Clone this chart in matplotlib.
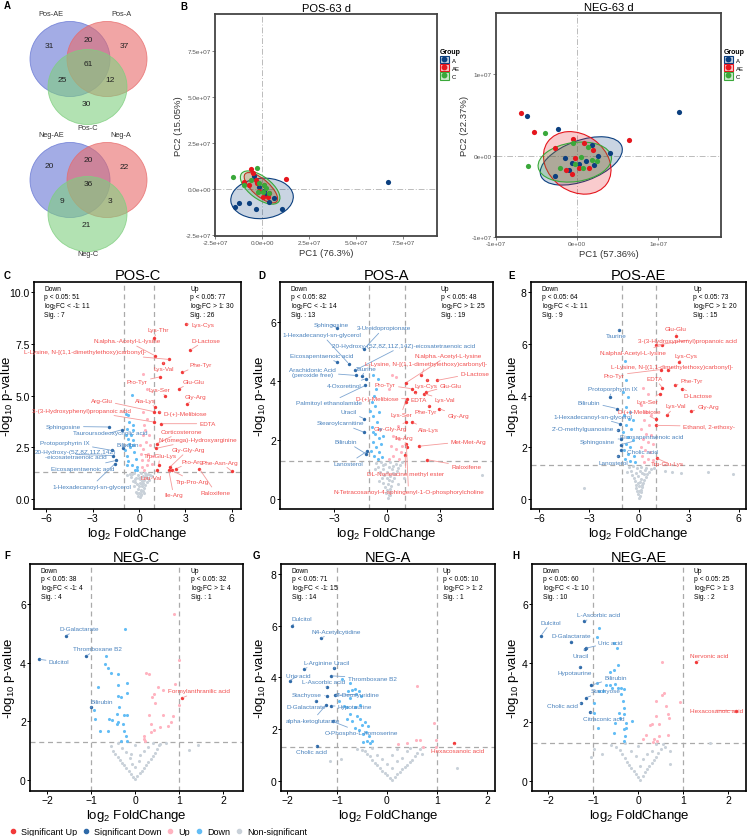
import matplotlib
matplotlib.use("Agg")
import matplotlib.pyplot as plt
from matplotlib.patches import Ellipse, Patch
from matplotlib.lines import Line2D
from matplotlib.colors import to_rgba

plt.rcParams['font.family'] = ['Liberation Sans', 'DejaVu Sans']
plt.rcParams['mathtext.fontset'] = 'custom'
plt.rcParams['mathtext.rm'] = 'Liberation Sans'
plt.rcParams['mathtext.it'] = 'Liberation Sans:italic'

W, H = 748, 837

# ---------------- Venn data ----------------
venn_pos_sets = ["Pos-AE", "Pos-A", "Pos-C"]
venn_pos_counts = [31, 20, 37, 61, 25, 12, 30]   # AE only, AE&A, A only, all, AE&C, A&C, C only
venn_neg_sets = ["Neg-AE", "Neg-A", "Neg-C"]
venn_neg_counts = [20, 20, 22, 36, 9, 3, 21]

# ---------------- PCA data ----------------
groups = ["A", "AE", "C"]
pos_A = [(-1.42, -0.97), (-1.21, -0.78), (-0.71, -0.75), (-0.32, -1.11), (0.39, -0.69), (0.66, -0.51),
         (1.05, -1.06), (6.68, 0.40), (-0.41, 0.68), (-0.14, 0.13), (0.21, -0.33), (0.10, -0.10)]
pos_AE = [(-0.59, 1.09), (1.28, 0.53), (-0.94, 0.40), (-0.67, 0.22), (-0.32, 0.49), (-0.14, -0.13),
          (0.04, -0.42), (0.30, -0.46), (-0.50, 0.85), (0.10, 0.20), (0.35, -0.20), (-0.25, 0.30)]
pos_C = [(-1.56, 0.64), (-0.27, 1.13), (-0.94, 0.20), (-0.14, 0.35), (0.12, 0.22), (0.04, -0.15),
         (-0.23, -0.15), (0.39, -0.24), (-0.60, 0.50), (0.20, 0.05)]
pos_ell = [((0.0, -0.51), 3.33, 2.19, 5), ((-0.06, 0.07), 2.25, 0.90, -42), ((-0.10, 0.08), 2.50, 1.20, -38)]

neg_A = [(-6.2, 4.9), (-2.36, 3.3), (12.5, 5.35), (-2.77, -2.47), (4.0, 0.29), (-1.45, -0.3), (-0.62, -0.91),
         (1.03, -0.7), (1.86, 1.28), (2.6, -0.08), (2.07, -1.11), (-1.03, -1.73), (0.2, -1.0)]
neg_AE = [(-6.94, 5.19), (-5.33, 2.88), (6.4, 1.89), (-2.77, 0.9), (-0.54, 2.06), (0.87, 1.48), (1.98, 0.66),
          (-1.36, -1.73), (-0.62, -2.22), (0.21, -1.52), (1.45, -1.52), (-0.29, -0.29)]
neg_C = [(-6.1, -1.23), (-3.93, 2.8), (-0.54, 1.48), (1.28, 1.03), (0.45, -0.16), (1.86, -0.49), (2.4, -0.7),
         (-2.15, -1.52), (0.7, -1.52), (-0.29, -0.99)]
neg_ell = [((0.5, -0.66), 10.6, 5.0, 20), ((0.0, -0.9), 8.9, 7.0, -35), ((-0.3, -0.8), 9.1, 4.8, 8)]

# ---------------- Volcano data ----------------
C_ns = [(0.05, 0.08), (-0.1, 0.15), (0.15, 0.22), (0.02, 0.3), (-0.2, 0.35), (0.25, 0.4), (0.1, 0.45),
        (-0.05, 0.5), (0.3, 0.55), (-0.3, 0.6), (0.18, 0.62), (0.4, 0.68), (-0.15, 0.72), (0.08, 0.75),
        (0.5, 0.8), (-0.4, 0.85), (0.22, 0.88), (0.35, 0.92), (-0.25, 0.95), (0.6, 1.0), (0.0, 1.02),
        (0.12, 1.05), (-0.5, 1.08), (0.45, 1.1), (0.28, 1.12), (-0.08, 1.15), (0.7, 1.18), (-0.6, 1.2),
        (0.55, 1.22), (0.15, 1.25), (-0.35, 1.25), (0.38, 1.27), (0.05, 0.95), (0.85, 1.1), (-0.75, 1.15),
        (0.2, 0.7), (-0.18, 1.0), (0.65, 0.9), (0.32, 0.3), (-0.45, 1.2), (0.1, 0.2), (-0.02, 0.62),
        (0.26, 0.78), (-0.28, 0.82), (0.42, 1.18), (0.14, 0.36), (-0.12, 0.28), (0.5, 1.02)]
C_dn = [(-0.48, 5.05), (-0.69, 4.05), (-0.84, 4.13), (-0.63, 3.72), (-0.76, 3.40), (-0.54, 3.07), (-0.41, 2.59),
        (-0.80, 2.10), (-0.48, 1.62), (-0.26, 1.42), (-0.71, 2.91), (-0.58, 2.51), (-0.32, 2.27), (-0.69, 1.81),
        (-0.37, 3.32), (-0.84, 3.07), (-0.19, 1.94), (-0.15, 1.54), (-0.63, 2.67), (-0.91, 2.35), (-0.37, 2.83),
        (-0.76, 1.62), (-0.11, 1.38), (-0.41, 3.56)]
C_up = [(0.28, 6.07), (0.50, 5.34), (0.28, 4.21), (0.50, 3.88), (0.32, 3.56), (0.24, 3.07), (0.45, 2.75),
        (0.28, 2.43), (0.61, 2.18), (0.17, 1.86), (0.50, 1.62), (0.82, 1.70), (0.32, 1.38), (0.71, 2.59),
        (0.11, 2.18), (0.39, 3.32), (0.67, 3.07), (0.17, 1.54), (0.61, 1.86), (0.89, 2.10), (0.06, 2.59)]
C_sdn = [("Sphingosine", -1.93, 3.48), ("Tauroursodeoxycholic acid", -1.10, 3.35),
         ("Protoporphyrin IX", -1.77, 2.35), ("Bilirubin", -1.05, 2.45),
         ("20-Hydroxy-(5Z,8Z,11Z,14Z)\n-eicosatetraenoic acid", -1.67, 2.10),
         ("Eicosapentaenoic acid", -1.49, 1.86), ("1-Hexadecanoyl-sn-glycerol", -1.56, 1.70)]
C_sdn_txt = [(-4.91, 3.51), (-1.88, 3.19), (-4.80, 2.75), (-0.76, 2.62), (-4.09, 2.15), (-3.66, 1.49), (-3.07, 0.61)]
C_sup = [("Lys-Cys", 3.01, 8.46), ("Lys-Thr", 0.97, 7.80), ("N.alpha.-Acetyl-L-lysine", 1.04, 6.93),
         ("D-Lactose", 3.31, 7.20), ("L-Lysine, N-[(1,1-dimethylethoxy)carbonyl]-", 1.97, 6.75),
         ("Lys-Val", 1.58, 6.59), ("Phe-Tyr", 2.79, 6.12), ("Pro-Tyr", 1.36, 5.91), ("Glu-Glu", 2.60, 5.34),
         ("Lys-Ser", 1.69, 4.98), ("Gly-Arg", 3.12, 4.58), ("Arg-Glu", 0.98, 4.22), ("Ala-Lys", 1.03, 4.45),
         ("D-(+)-Melibiose", 1.32, 4.21), ("3-(3-Hydroxyphenyl)propanoic acid", 0.97, 3.72),
         ("EDTA", 1.43, 3.64), ("Corticosterone", 1.15, 2.67), ("N-(omega)-Hydroxyarginine", 1.12, 2.45),
         ("Gly-Gly-Arg", 2.00, 1.54), ("Trp-Glu-Lys", 1.26, 1.62), ("Pro-Arg", 2.40, 1.46),
         ("Phe-Asn-Arg", 6.02, 1.33), ("Leu-Val", 1.15, 1.38), ("Trp-Pro-Arg", 2.12, 1.38),
         ("Ile-Arg", 1.92, 1.40), ("Raloxifene", 3.90, 1.46)]
C_sup_txt = [(4.14, 8.46), (1.26, 8.20), (-0.80, 7.65), (4.33, 7.69), (-3.50, 7.12), (1.58, 6.31), (3.96, 6.50),
             (-0.11, 5.66), (3.53, 5.70), (1.32, 5.31), (3.64, 4.94), (-2.42, 4.77), (0.43, 4.77), (2.99, 4.13),
             (-3.72, 4.29), (4.44, 3.64), (2.77, 3.27), (3.79, 2.88), (3.20, 2.39), (1.36, 2.10), (3.48, 1.83),
             (5.26, 1.78), (0.76, 1.05), (3.48, 0.86), (2.23, 0.19), (4.94, 0.32)]
C_counts = [51, 11, 7, 77, 30, 26]

D_ns = [(0.05, 0.05), (0.1, 0.12), (-0.05, 0.2), (0.15, 0.25), (0.0, 0.3), (0.2, 0.35), (-0.1, 0.4),
        (0.25, 0.45), (0.08, 0.5), (-0.2, 0.55), (0.3, 0.6), (0.12, 0.65), (-0.3, 0.7), (0.4, 0.72),
        (0.18, 0.78), (-0.15, 0.82), (0.45, 0.85), (0.02, 0.9), (-0.4, 0.92), (0.55, 0.95), (0.28, 1.0),
        (-0.25, 1.02), (0.65, 1.05), (0.1, 1.08), (-0.5, 1.1), (0.35, 1.12), (0.75, 1.15), (-0.1, 1.18),
        (0.5, 1.2), (-0.6, 1.22), (0.2, 1.25), (0.85, 1.27), (-0.35, 1.27), (0.6, 0.5), (-0.45, 0.6),
        (5.38, 0.82), (0.95, 0.7), (-0.7, 1.0), (0.15, 0.15), (-0.02, 0.7), (0.32, 0.88), (-0.22, 1.15)]
D_dn = [(-0.77, 4.19), (-0.53, 4.08), (-0.71, 3.51), (-0.84, 3.28), (-0.66, 3.17), (-0.43, 2.94), (-0.77, 2.83),
        (-0.58, 2.60), (-0.84, 2.43), (-0.39, 2.38), (-0.66, 2.21), (-0.47, 2.06), (-0.81, 1.93), (-0.34, 1.87),
        (-0.62, 1.76), (-0.90, 1.64), (-0.43, 1.59), (-0.71, 1.47), (-0.28, 1.42), (-0.53, 1.36), (-0.77, 2.26),
        (-0.24, 2.15), (-0.96, 3.00), (-0.62, 3.74)]
D_up = [(0.28, 4.19), (0.51, 4.13), (0.13, 3.74), (0.60, 2.49), (0.32, 2.15), (0.69, 2.04), (0.23, 1.81),
        (0.51, 1.70), (0.79, 1.59), (0.36, 1.47), (0.13, 1.36), (0.66, 1.36), (0.88, 1.81)]
D_sdn = [("Sphingosine", -2.83, 5.80), ("3-Ureidopropionate", -1.28, 5.10),
         ("1-Hexadecanoyl-sn-glycerol", -2.16, 4.59),
         ("20-Hydroxy-(5Z,8Z,11Z,14Z)-eicosatetraenoic acid", -1.82, 4.36),
         ("Eicosapentaenoic acid", -2.81, 4.64), ("Taurine", -1.41, 4.16),
         ("Arachidonic Acid\n(peroxide free)", -1.74, 4.19), ("4-Oxoretinol", -1.18, 4.08),
         ("Palmitoyl ethanolamide", -1.22, 3.85), ("Uracil", -1.28, 2.72), ("Stearoylcarnitine", -1.28, 2.26),
         ("Bilirubin", -1.18, 1.53), ("Lanosterol", -1.12, 1.62)]
D_sdn_txt = [(-3.15, 5.92), (-0.19, 5.80), (-3.66, 5.57), (0.94, 5.21), (-3.71, 4.87), (-1.18, 4.44), (-4.22, 4.30),
             (-2.40, 3.85), (-3.28, 3.26), (-2.16, 2.97), (-2.65, 2.58), (-2.31, 1.95), (-2.16, 1.21)]
D_sup = [("N.alpha.-Acetyl-L-lysine", 1.07, 3.94), ("L-Lysine, N-[(1,1-dimethylethoxy)carbonyl]-", 1.95, 4.19),
         ("D-Lactose", 2.81, 4.02), ("Pro-Tyr", 1.41, 3.74), ("Lys-Cys", 2.29, 4.04), ("Glu-Glu", 2.20, 3.62),
         ("EDTA", 1.58, 3.62), ("Lys-Val", 2.10, 3.57), ("D-(+)-Melibiose", 1.16, 3.40), ("Phe-Tyr", 2.38, 3.17),
         ("Gly-Arg", 2.95, 3.06), ("Lys-Ser", 1.05, 3.30), ("Ala-Lys", 1.44, 2.60), ("Gly-Gly-Arg", 1.07, 2.60),
         ("Ile-Arg", 1.11, 1.76), ("Met-Met-Arg", 1.82, 1.79), ("Raloxifene", 2.29, 1.33),
         ("DL-Norleucine methyl ester", 1.03, 1.50),
         ("N-Tetracosanoyl-4-sphingenyl-1-O-phosphorylcholine", 1.10, 1.85)]
D_sup_txt = [(3.47, 4.87), (2.20, 4.59), (4.97, 4.27), (-0.09, 3.87), (2.20, 3.85), (3.60, 3.85), (1.82, 3.37),
             (3.28, 3.37), (-0.56, 3.42), (2.20, 2.97), (4.03, 2.83), (0.79, 2.85), (2.35, 2.36), (0.19, 2.38),
             (0.94, 2.10), (4.60, 1.96), (4.48, 1.10), (1.07, 0.87), (1.22, 0.26)]
D_counts = [82, 14, 13, 48, 25, 19]

E_ns = [(0.0, 0.05), (0.05, 0.12), (-0.05, 0.18), (0.1, 0.25), (-0.1, 0.3), (0.15, 0.35), (-0.15, 0.42),
        (0.2, 0.45), (0.0, 0.5), (-0.2, 0.55), (0.25, 0.6), (0.08, 0.65), (-0.25, 0.7), (0.3, 0.72),
        (0.12, 0.78), (-0.3, 0.82), (0.4, 0.85), (-0.05, 0.9), (-0.4, 0.92), (0.5, 0.95), (0.2, 1.0),
        (-0.2, 1.02), (0.6, 1.05), (0.05, 1.08), (-0.5, 1.1), (0.35, 1.12), (0.7, 1.15), (-0.1, 1.18),
        (0.45, 1.2), (-0.6, 1.22), (0.15, 1.25), (0.9, 1.2), (-0.35, 1.27), (-3.3, 0.41), (4.17, 1.04),
        (5.65, 0.97), (2.0, 1.04), (2.55, 1.01), (1.6, 1.1), (-0.7, 1.05), (0.02, 0.3), (-0.08, 0.62),
        (0.18, 0.55), (0.28, 0.95)]
E_dn = [(-0.85, 5.33), (-0.75, 4.60), (-0.94, 4.14), (-0.65, 3.95), (-0.79, 3.56), (-0.51, 3.37), (-0.91, 3.24),
        (-0.59, 3.11), (-0.35, 3.04), (-0.75, 2.85), (-0.45, 2.72), (-0.94, 2.59), (-0.65, 2.39), (-0.35, 2.27),
        (-0.79, 2.14), (-0.51, 2.01), (-0.91, 1.88), (-0.65, 1.75), (-0.31, 1.68), (-0.85, 1.55), (-0.55, 1.45),
        (-0.26, 1.42)]
E_up = [(0.24, 4.30), (0.53, 4.08), (0.14, 3.62), (0.43, 3.37), (0.73, 3.24), (0.28, 3.04), (0.59, 2.85),
        (0.14, 2.72), (0.43, 2.52), (0.73, 2.46), (0.24, 2.33), (0.53, 2.20), (0.83, 2.14), (0.14, 2.01),
        (0.39, 1.88), (0.67, 1.81), (0.20, 1.68), (0.53, 1.55), (0.33, 1.42), (0.83, 1.49)]
E_sdn = [("Taurine", -1.20, 6.56), ("Protoporphyrin IX", -1.77, 3.95), ("Bilirubin", -1.34, 3.50),
         ("1-Hexadecanoyl-sn-glycerol", -1.14, 2.91), ("2'-O-methylguanosine", -1.24, 2.65),
         ("Sphingosine", -1.10, 2.33), ("Eicosapentaenoic acid", -1.10, 2.10), ("Cholic acid", -1.05, 1.90),
         ("Lanosterol", -1.24, 1.66)]
E_sdn_txt = [(-1.34, 6.32), (-1.57, 4.27), (-3.01, 3.75), (-2.76, 3.21), (-3.35, 2.74), (-2.48, 2.24), (0.79, 2.43),
             (0.24, 1.85), (-1.54, 1.42)]
E_sup = [("Glu-Glu", 2.26, 6.32), ("3-(3-Hydroxyphenyl)propanoic acid", 1.02, 5.95),
         ("N.alphal-Acetyl-L-lysine", 1.42, 5.95), ("Lys-Cys", 2.40, 5.31),
         ("L-Lysine, N-[(1,1-dimethylethoxy)carbonyl]-", 1.77, 4.98), ("Pro-Tyr", 1.32, 5.01),
         ("EDTA", 1.42, 4.30), ("Phe-Tyr", 2.15, 4.40), ("D-Lactose", 2.60, 4.27), ("Lys-Ser", 1.26, 4.08),
         ("Lys-Val", 1.67, 3.24), ("Gly-Arg", 3.15, 3.40), ("D-(+)-Melibiose", 1.02, 3.08),
         ("Ethanol, 2-ethoxy-", 1.02, 2.85), ("Trp-Glu-Lys", 1.06, 1.58)]
E_sup_txt = [(2.20, 6.60), (2.95, 6.15), (-0.35, 5.66), (2.83, 5.57), (2.00, 5.11), (-1.48, 4.79), (0.98, 4.66),
             (3.19, 4.57), (3.58, 3.99), (0.53, 3.78), (2.20, 3.60), (4.17, 3.56), (0.04, 3.40), (4.21, 2.81),
             (1.71, 1.39)]
E_counts = [64, 11, 9, 73, 20, 15]

F_ns = [(0.0, 0.05), (-0.05, 0.1), (0.05, 0.15), (-0.1, 0.2), (0.1, 0.25), (-0.15, 0.3), (0.15, 0.32),
        (-0.2, 0.4), (0.2, 0.42), (-0.25, 0.5), (0.25, 0.52), (-0.3, 0.6), (0.3, 0.62), (0.0, 0.45),
        (-0.35, 0.7), (0.35, 0.72), (-0.08, 0.55), (0.08, 0.65), (-0.4, 0.8), (0.4, 0.82), (-0.12, 0.75),
        (0.12, 0.85), (-0.45, 0.9), (0.45, 0.92), (-0.2, 0.95), (0.2, 1.0), (-0.5, 1.0), (0.5, 1.05),
        (-0.3, 1.1), (0.3, 1.12), (-0.55, 1.15), (0.55, 1.2), (0.0, 1.2), (-0.4, 1.25), (0.4, 1.27),
        (0.57, 1.23), (0.7, 1.26), (1.23, 1.03), (1.42, 1.19), (-0.1, 0.9)]
F_dn = [(-0.24, 5.17), (-0.67, 4.22), (-0.69, 3.95), (-0.62, 3.84), (-0.54, 3.64), (-0.39, 3.61), (-0.19, 3.30),
        (-0.84, 3.18), (-0.39, 3.24), (-0.39, 2.88), (-0.18, 2.97), (-0.32, 2.85), (-0.37, 2.50), (-0.94, 2.39),
        (-0.92, 2.08), (-0.42, 2.25), (-0.26, 2.23), (-0.18, 2.22), (-0.60, 2.08), (-0.53, 2.06), (-0.39, 1.99),
        (-0.28, 1.93), (-0.81, 1.66), (-0.62, 1.66), (-0.26, 1.68), (-0.20, 1.51), (-0.18, 1.32), (-0.32, 1.34),
        (-0.41, 1.91)]
F_up = [(0.88, 5.68), (0.99, 4.10), (0.25, 3.67), (0.32, 3.61), (0.51, 3.19), (0.64, 3.07), (0.91, 3.27),
        (0.42, 2.93), (0.38, 2.82), (0.45, 2.63), (0.99, 2.56), (0.32, 2.22), (0.63, 2.23), (0.85, 2.20),
        (0.82, 1.97), (0.74, 1.85), (0.36, 1.92), (0.42, 1.70), (0.36, 1.63), (0.21, 1.51), (0.19, 1.40),
        (0.23, 1.34), (0.57, 1.80)]
F_sdn = [("D-Galactarate", -1.58, 4.92), ("Thromboxane B2", -1.12, 4.22), ("Dulcitol", -2.18, 4.12),
         ("Bilirubin", -1.01, 2.48)]
F_sdn_txt = [(-1.28, 5.17), (-0.86, 4.49), (-1.73, 4.03), (-0.77, 2.68)]
F_sup = [("Formylanthranilic acid", 1.06, 2.80)]
F_sup_txt = [(1.46, 3.05)]
F_counts = [38, 4, 4, 32, 4, 1]

G_ns = [(0.1, 0.05), (0.05, 0.12), (0.15, 0.15), (0.0, 0.22), (0.2, 0.25), (-0.05, 0.3), (0.25, 0.35),
        (-0.1, 0.4), (0.3, 0.45), (-0.15, 0.5), (0.35, 0.55), (-0.2, 0.6), (0.4, 0.62), (0.1, 0.5),
        (-0.25, 0.7), (0.45, 0.72), (0.0, 0.65), (0.2, 0.75), (-0.3, 0.8), (0.5, 0.82), (-0.1, 0.85),
        (0.3, 0.9), (-0.35, 0.95), (0.55, 0.95), (-0.2, 1.0), (0.1, 1.02), (-0.4, 1.05), (0.6, 1.08),
        (-0.45, 1.15), (0.4, 1.15), (-0.5, 1.2), (0.2, 1.22), (-0.6, 1.25), (0.65, 1.25), (-1.14, 0.77),
        (-0.92, 0.83), (1.39, 0.49), (0.7, 1.05), (0.45, 1.28), (-0.3, 1.28)]
G_dn = [(-0.74, 3.78), (-0.79, 3.48), (-0.70, 3.51), (-0.64, 3.55), (-0.57, 3.48), (-0.62, 3.35), (-0.52, 3.29),
        (-0.75, 3.20), (-0.54, 2.94), (-0.87, 2.90), (-0.81, 2.86), (-0.64, 2.84), (-0.74, 2.58), (-0.81, 2.39),
        (-0.60, 2.49), (-0.54, 2.39), (-0.44, 2.26), (-0.70, 2.30), (-0.50, 2.17), (-0.39, 2.13), (-0.64, 2.06),
        (-0.57, 1.97), (-0.42, 1.90), (-0.49, 1.81), (-0.37, 1.74), (-0.30, 1.55), (-0.40, 1.55), (-0.48, 1.51),
        (-0.34, 1.45), (-0.91, 3.94), (-0.97, 3.10)]
G_up = [(0.60, 3.68), (0.94, 2.23), (0.97, 1.57), (0.57, 1.59), (0.65, 1.59), (0.40, 1.48), (0.21, 1.42),
        (0.72, 1.32), (0.97, 1.32)]
G_sdn = [("Dulcitol", -1.91, 6.00), ("N4-Acetylcytidine", -1.33, 5.51), ("L-Arginine", -1.66, 4.32),
         ("Uracil", -1.06, 4.35), ("Uric acid", -1.95, 3.87), ("L-Ascorbic acid", -1.21, 3.61),
         ("Thromboxane B2", -1.12, 4.06), ("Stachyose", -1.21, 3.29), ("2'-Deoxyuridine", -1.05, 3.30),
         ("D-Galactarate", -1.42, 3.10), ("Hypotaurine", -1.12, 2.90), ("alpha-ketoglutarate", -1.22, 2.93),
         ("O-Phospho-L-homoserine", -1.09, 2.30), ("Cholic acid", -1.41, 1.33)]
G_sdn_txt = [(-1.71, 6.26), (-1.02, 5.78), (-1.38, 4.58), (-0.91, 4.58), (-1.78, 4.06), (-1.26, 3.85), (-0.30, 3.97),
             (-1.60, 3.35), (-0.59, 3.35), (-1.62, 2.88), (-0.64, 2.86), (-1.48, 2.35), (-0.52, 1.87), (-1.51, 1.12)]
G_sup = [("Hexacosanoic acid", 1.33, 1.45)]
G_sup_txt = [(1.41, 1.19)]
G_counts = [71, 15, 14, 10, 2, 1]

H_ns = [(0.05, 0.05), (0.0, 0.12), (0.1, 0.18), (-0.05, 0.25), (0.15, 0.3), (-0.1, 0.35), (0.2, 0.4),
        (-0.15, 0.45), (0.25, 0.5), (-0.2, 0.55), (0.3, 0.6), (0.05, 0.5), (-0.25, 0.65), (0.35, 0.7),
        (0.1, 0.75), (-0.3, 0.78), (0.4, 0.8), (-0.05, 0.85), (0.2, 0.9), (-0.35, 0.92), (0.45, 0.95),
        (-0.15, 1.0), (0.3, 1.02), (-0.4, 1.05), (0.5, 1.08), (-0.5, 1.15), (0.6, 1.15), (0.0, 1.18),
        (-0.6, 1.22), (0.4, 1.25), (-0.97, 1.1), (-0.8, 0.9), (0.7, 0.56), (1.6, 1.29), (0.55, 1.27),
        (-0.3, 1.28), (0.7, 1.0), (-1.05, 0.8)]
H_dn = [(-0.87, 5.18), (-0.91, 4.90), (-0.54, 4.67), (-0.47, 4.50), (-0.45, 3.93), (-0.54, 3.76), (-0.63, 3.68),
        (-0.71, 3.25), (-0.63, 3.25), (-0.52, 3.28), (-0.45, 3.17), (-0.39, 3.14), (-0.32, 3.11), (-0.57, 3.14),
        (-0.78, 3.06), (-0.86, 3.06), (-0.92, 3.31), (-0.37, 2.94), (-0.34, 2.72), (-0.32, 2.46), (-0.42, 2.30),
        (-0.32, 2.26), (-0.41, 2.13), (-0.28, 1.98), (-0.28, 1.81), (-0.32, 1.76), (-0.13, 2.02), (-0.52, 1.96),
        (-0.54, 1.64), (-0.30, 1.53), (-0.31, 1.36), (-0.97, 2.32), (-0.89, 1.81), (-0.97, 2.66)]
H_up = [(0.54, 4.02), (0.58, 3.00), (0.54, 2.91), (0.39, 2.72), (0.63, 2.55), (0.93, 2.68), (0.66, 2.26),
        (0.69, 2.15), (0.39, 2.21), (0.30, 1.93), (0.47, 1.93), (0.26, 1.90), (0.17, 1.55), (0.10, 1.42),
        (0.34, 1.33), (0.42, 1.36), (0.67, 1.55), (0.47, 1.51), (0.36, 1.42)]
H_sdn = [("L-Ascorbic acid", -1.21, 5.41), ("Dulcitol", -2.16, 4.93), ("D-Galactarate", -1.49, 4.70),
         ("Uric acid", -1.17, 4.50), ("Uracil", -1.19, 4.47), ("Hypotaurine", -1.29, 3.88),
         ("Bilirubin", -1.04, 3.25), ("Stachyose", -1.15, 2.83), ("Cholic acid", -1.27, 2.63),
         ("Citraconic acid", -1.08, 2.34)]
H_sdn_txt = [(-0.89, 5.64), (-1.94, 5.38), (-1.49, 4.93), (-0.61, 4.70), (-1.27, 4.25), (-1.42, 3.68), (-0.50, 3.51),
             (-0.72, 3.06), (-1.69, 2.57), (-0.77, 2.12)]
H_sup = [("Nervonic acid", 1.29, 4.04), ("Hexacosanoic acid", 2.17, 2.38)]
H_sup_txt = [(1.59, 4.27), (1.74, 2.40)]
H_counts = [60, 10, 10, 25, 3, 2]

legend_labels = ["Significant Up", "Significant Down", "Up", "Down", "Non-significant"]

# ---------------- colours ----------------
COL_SUP, COL_SDN, COL_UP, COL_DN, COL_NS = '#f23a3a', '#2f6aa8', '#ffb3c0', '#63bdf5', '#c9d1d9'
TXT_UP, TXT_DN = '#f24f4f', '#4a82bd'
LN_UP, LN_DN = '#f59a9a', '#7ea6d2'
GRP_COL = {'A': '#0b3f7f', 'AE': '#e5161d', 'C': '#3aa83a'}

fig = plt.figure(figsize=(W / 100, H / 100), dpi=100)


def box(l, t, r, b):
    return [l / W, 1 - b / H, (r - l) / W, (b - t) / H]


def letter(x, y, s):
    fig.text(x / W, 1 - y / H, s, fontsize=7, fontweight='bold', va='center', ha='left')


# ---------------- A: Venn ----------------
axv = fig.add_axes(box(0, 0, 160, 270))
axv.set_xlim(0, 160)
axv.set_ylim(270, 0)
axv.axis('off')
venn_cols = ['#6676d4', '#e86a6a', '#7fcf7f']


def venn(y0, names, counts, dy_c):
    circles = [((70, y0), 80, 75), ((107, y0), 80, 75), ((87.5, y0 + dy_c), 79, 75)]
    for (c, w, h), col in zip(circles, venn_cols):
        axv.add_patch(Ellipse(c, w, h, facecolor=to_rgba(col, 0.6), edgecolor=to_rgba(col, 0.8), lw=0.6))
    lab_pos = [(51, y0 - 45), (121, y0 - 45), (88, y0 + dy_c + 40)]
    for (x, y), s in zip(lab_pos, names):
        axv.text(x, y, s, fontsize=5.3, ha='center', va='center', color='#333333')
    num_pos = [(49, y0 - 14), (88, y0 - 20), (124, y0 - 13), (88, y0 + 4), (62, y0 + 21), (110, y0 + 21),
               (86, y0 + 45)]
    for (x, y), n in zip(num_pos, counts):
        axv.text(x, y, str(n), fontsize=6, ha='center', va='center', color='#222222')


venn(60, venn_pos_sets, venn_pos_counts, 28)
venn(181, venn_neg_sets, venn_neg_counts, 34)
letter(4, 6, 'A')


# ---------------- B: PCA ----------------
def pca(rect, title, data, ells, scale, xlim, ylim, xt, xtl, yt, ytl, xlab, ylab, leg_x):
    ax = fig.add_axes(box(*rect))
    for g, (c, w, h, a) in zip(groups, ells):
        col = GRP_COL[g]
        ax.add_patch(Ellipse((c[0] * scale, c[1] * scale), w * scale, h * scale, angle=a,
                             facecolor=to_rgba(col, 0.22), edgecolor=col, lw=0.8, zorder=2))
    for g, pts in zip(groups, data):
        ax.scatter([p[0] * scale for p in pts], [p[1] * scale for p in pts], s=14, color=GRP_COL[g],
                   lw=0, zorder=3)
    ax.axvline(0, color='#bbbbbb', lw=0.7, ls=(0, (6, 2, 1, 2)), zorder=1)
    ax.axhline(0, color='#bbbbbb', lw=0.7, ls=(0, (6, 2, 1, 2)), zorder=1)
    ax.set_xlim(*xlim)
    ax.set_ylim(*ylim)
    ax.set_xticks(xt, xtl)
    ax.set_yticks(yt, ytl)
    ax.tick_params(labelsize=4.6, labelcolor='#555555', length=2, width=0.5, color='#555555', pad=1)
    for s in ax.spines.values():
        s.set_color('#444444')
        s.set_linewidth(1.3)
    ax.set_title(title, fontsize=8, pad=2)
    ax.set_xlabel(xlab, fontsize=6.8, labelpad=2, color='#333333')
    ax.set_ylabel(ylab, fontsize=6.8, labelpad=2, color='#333333')
    handles = [(Patch(facecolor=to_rgba(GRP_COL[g], 0.25), edgecolor=GRP_COL[g], lw=0.8),
                Line2D([], [], marker='o', ls='', color=GRP_COL[g], ms=3.2)) for g in groups]
    leg = fig.legend(handles, groups, title='Group', loc='upper left', bbox_to_anchor=(leg_x / W, 1 - 49 / H),
                     frameon=False, fontsize=4.3, title_fontsize=5, handlelength=1.5, handleheight=1.5,
                     handletextpad=0.5, labelspacing=0.15, borderpad=0, borderaxespad=0)
    leg.get_title().set_fontweight('bold')
    leg._legend_box.align = 'left'
    return ax


pca((215, 15, 437, 237), 'POS-63 d', [pos_A, pos_AE, pos_C], pos_ell, 1e7, (-2.5e7, 9.3e7), (-2.55e7, 9.5e7),
    [-2.5e7, 0, 2.5e7, 5e7, 7.5e7], ['-2.5e+07', '0.0e+00', '2.5e+07', '5.0e+07', '7.5e+07'],
    [-2.5e7, 0, 2.5e7, 5e7, 7.5e7], ['-2.5e+07', '0.0e+00', '2.5e+07', '5.0e+07', '7.5e+07'],
    'PC1 (76.3%)', 'PC2 (15.05%)', 440)
pca((496, 14, 721, 238), 'NEG-63 d', [neg_A, neg_AE, neg_C], neg_ell, 1e6, (-1e7, 1.77e7), (-1e7, 1.75e7),
    [-1e7, 0, 1e7], ['-1e+07', '0e+00', '1e+07'], [-1e7, 0, 1e7], ['-1e+07', '0e+00', '1e+07'],
    'PC1 (57.36%)', 'PC2 (22.37%)', 724)
letter(180, 7, 'B')


# ---------------- C-H: volcano ----------------
def volcano(rect, title, xlim, ylim, xt, yt, ns, dn, up, sdn, sdn_txt, sup, sup_txt, counts, ylab_x,
            ytfmt='{:g}'):
    ax = fig.add_axes(box(*rect))
    for pts, col in ((ns, COL_NS), (dn, COL_DN), (up, COL_UP)):
        ax.scatter([p[0] for p in pts], [p[1] for p in pts], s=5, color=col, lw=0, zorder=2)
    ax.scatter([p[1] for p in sdn], [p[2] for p in sdn], s=6, color=COL_SDN, lw=0, zorder=3)
    ax.scatter([p[1] for p in sup], [p[2] for p in sup], s=6, color=COL_SUP, lw=0, zorder=3)
    for (name, x, y), (tx, ty) in zip(sdn, sdn_txt):
        ax.annotate(name, (x, y), xytext=(tx, ty), ha='center', va='center', fontsize=4.6, color=TXT_DN,
                    linespacing=1.0, zorder=4,
                    arrowprops=dict(arrowstyle='-', color=LN_DN, lw=0.6, shrinkA=0, shrinkB=1))
    for (name, x, y), (tx, ty) in zip(sup, sup_txt):
        ax.annotate(name, (x, y), xytext=(tx, ty), ha='center', va='center', fontsize=4.6, color=TXT_UP,
                    linespacing=1.0, zorder=4,
                    arrowprops=dict(arrowstyle='-', color=LN_UP, lw=0.6, shrinkA=0, shrinkB=1))
    for v in (-1, 1):
        ax.axvline(v, color='#aaaaaa', lw=0.9, ls=(0, (4, 3)), zorder=1)
    ax.axhline(1.301, color='#aaaaaa', lw=0.9, ls=(0, (4, 3)), zorder=1)
    ax.set_xlim(*xlim)
    ax.set_ylim(*ylim)
    ax.set_xticks(xt)
    ax.set_yticks(yt, [ytfmt.format(v) for v in yt])
    ax.tick_params(labelsize=7.5, length=2, width=0.7, pad=1)
    for s in ax.spines.values():
        s.set_linewidth(1.2)
    ax.set_title(title, fontsize=10.5, pad=2)
    ax.set_xlabel('log$_2$ FoldChange', fontsize=9.5, labelpad=1)
    ax.set_ylabel('-log$_{10}$ p-value', fontsize=9.5)
    # ylab_x is the right edge (pixels) of the rotated label
    ax.yaxis.set_label_coords((ylab_x - rect[0]) / (rect[2] - rect[0]), 0.5)
    ax.text(0.05, 0.985, 'Down\np < 0.05: %d\nlog$_2$FC < -1: %d\nSig. : %d' % tuple(counts[:3]),
            transform=ax.transAxes, ha='left', va='top', fontsize=4.8, linespacing=1.05)
    ax.text(0.755, 0.985, 'Up\np < 0.05: %d\nlog$_2$FC > 1: %d\nSig. : %d' % tuple(counts[3:]),
            transform=ax.transAxes, ha='left', va='top', fontsize=4.8, linespacing=1.05)
    return ax


volcano((34, 283, 241, 510), 'POS-C', (-6.8, 6.6), (-0.49, 10.5), [-6, -3, 0, 3, 6], [0, 2.5, 5, 7.5, 10],
        C_ns, C_dn, C_up, C_sdn, C_sdn_txt, C_sup, C_sup_txt, C_counts, 15, ytfmt='{:.1f}')
volcano((280, 283, 493, 510), 'POS-A', (-6.05, 6.0), (-0.34, 7.36), [-3, 0, 3], [0, 2, 4, 6],
        D_ns, D_dn, D_up, D_sdn, D_sdn_txt, D_sup, D_sup_txt, D_counts, 268)
volcano((531, 283, 746, 510), 'POS-AE', (-6.5, 6.45), (-0.39, 8.4), [-6, -3, 0, 3, 6], [0, 2, 4, 6, 8],
        E_ns, E_dn, E_up, E_sdn, E_sdn_txt, E_sup, E_sup_txt, E_counts, 521)
volcano((30, 565, 243, 792), 'NEG-C', (-2.39, 2.45), (-0.37, 7.37), [-2, -1, 0, 1, 2], [0, 2, 4, 6],
        F_ns, F_dn, F_up, F_sdn, F_sdn_txt, F_sup, F_sup_txt, F_counts, 17)
volcano((281, 565, 495, 792), 'NEG-A', (-2.12, 2.16), (-0.39, 8.38), [-2, -1, 0, 1, 2], [0, 2, 4, 6, 8],
        G_ns, G_dn, G_up, G_sdn, G_sdn_txt, G_sup, G_sup_txt, G_counts, 268)
volcano((532, 565, 746, 792), 'NEG-AE', (-2.36, 2.4), (-0.34, 7.36), [-2, -1, 0, 1, 2], [0, 2, 4, 6],
        H_ns, H_dn, H_up, H_sdn, H_sdn_txt, H_sup, H_sup_txt, H_counts, 521)

letter(4, 276, 'C')
letter(258, 276, 'D')
letter(508, 276, 'E')
letter(4, 556, 'F')
letter(253, 556, 'G')
letter(512, 556, 'H')

# ---------------- bottom legend ----------------
leg_cols = [COL_SUP, COL_SDN, COL_UP, COL_DN, COL_NS]
leg_handles = [Line2D([], [], marker='o', ls='', color=c, ms=3) for c in leg_cols]
fig.legend(leg_handles, legend_labels, loc='lower left', bbox_to_anchor=(8 / W, 0.0), ncol=5, frameon=False,
           fontsize=6.5, handlelength=1.0, handletextpad=0.4, columnspacing=0.5, borderpad=0, borderaxespad=0)

fig.savefig('out.png', dpi=100)
